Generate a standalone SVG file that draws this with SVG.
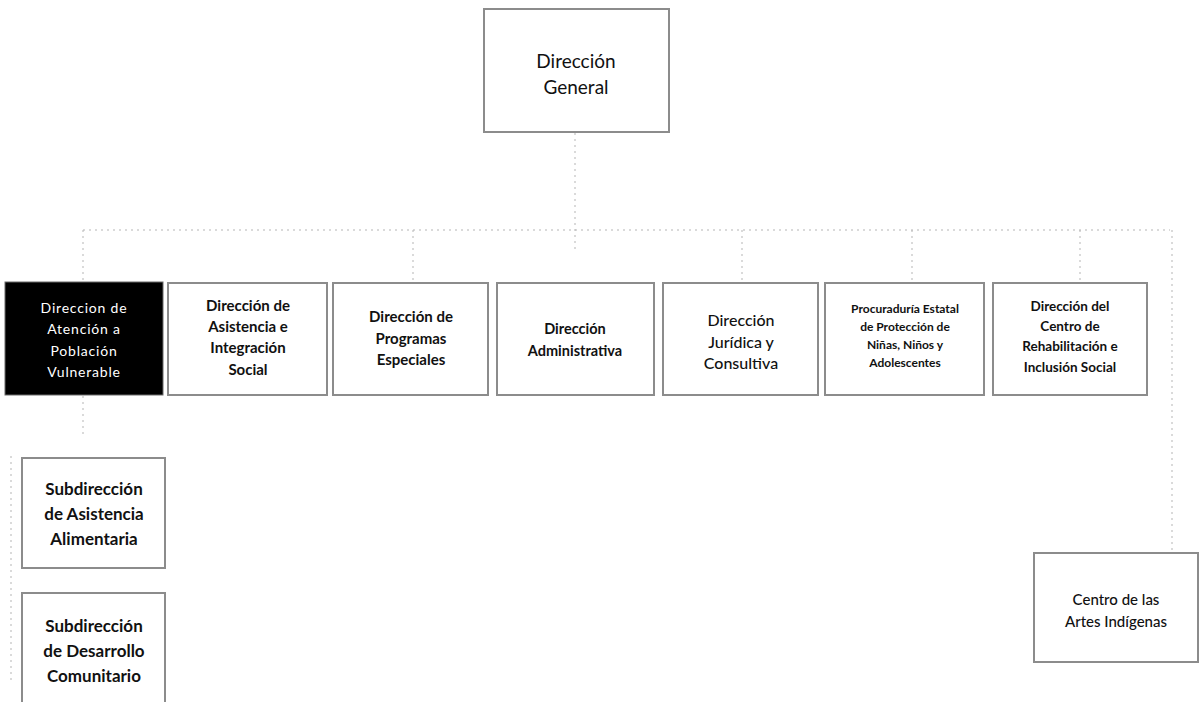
<svg xmlns="http://www.w3.org/2000/svg" width="1200" height="702" viewBox="0 0 1200 702">
  <style>
    .box { fill: #ffffff; stroke: #8c8c8c; stroke-width: 2; }
    .dark { fill: #000000; stroke: #6a6a6a; stroke-width: 1; }
    .lbl { font-family: Lato, "Liberation Sans", sans-serif; fill: #111111; text-anchor: middle; dominant-baseline: central; }
    .b { font-weight: 700; }
    .inv { fill: #ffffff; font-weight: 400; letter-spacing: 0.8px; }
    .wire { fill: none; stroke: #b5b5b5; stroke-width: 1; stroke-dasharray: 2 4; }
  </style>
  <rect width="1200" height="702" fill="#ffffff"/>

  <!-- connectors -->
  <g id="connectors">
    <line class="wire" x1="575" y1="133" x2="575" y2="252"/>
    <line class="wire" x1="83" y1="230" x2="1170" y2="230"/>
    <line class="wire" x1="83" y1="230" x2="83" y2="281"/>
    <line class="wire" x1="413" y1="230" x2="413" y2="281"/>
    <line class="wire" x1="742" y1="230" x2="742" y2="281"/>
    <line class="wire" x1="912" y1="230" x2="912" y2="281"/>
    <line class="wire" x1="1080" y1="230" x2="1080" y2="281"/>
    <line class="wire" x1="1172" y1="230" x2="1172" y2="551"/>
    <line class="wire" x1="83" y1="396" x2="83" y2="436"/>
    <line class="wire" x1="11" y1="456" x2="11" y2="680"/>
  </g>

  <g id="direccion-general">
    <rect class="box" x="484" y="9" width="185" height="123"/>
    <text class="lbl" x="576" y="60" font-size="19">Dirección</text>
    <text class="lbl" x="576" y="86" font-size="19">General</text>
  </g>

  <g id="atencion-poblacion">
    <rect class="dark" x="5" y="282" width="158" height="113"/>
    <text class="lbl inv" x="84" y="307" font-size="14">Direccion de</text>
    <text class="lbl inv" x="84" y="328" font-size="14">Atención a</text>
    <text class="lbl inv" x="84" y="350" font-size="14">Población</text>
    <text class="lbl inv" x="84" y="371" font-size="14">Vulnerable</text>
  </g>

  <g id="asistencia-integracion">
    <rect class="box" x="168" y="283" width="159" height="112"/>
    <text class="lbl b" x="248" y="305" font-size="15">Dirección de</text>
    <text class="lbl b" x="248" y="326" font-size="15">Asistencia e</text>
    <text class="lbl b" x="248" y="347" font-size="15">Integración</text>
    <text class="lbl b" x="248" y="369" font-size="15">Social</text>
  </g>

  <g id="programas-especiales">
    <rect class="box" x="333" y="283" width="155" height="112"/>
    <text class="lbl b" x="411" y="316" font-size="15">Dirección de</text>
    <text class="lbl b" x="411" y="338" font-size="15">Programas</text>
    <text class="lbl b" x="411" y="359" font-size="15">Especiales</text>
  </g>

  <g id="administrativa">
    <rect class="box" x="497" y="283" width="157" height="112"/>
    <text class="lbl b" x="575" y="328" font-size="14.5">Dirección</text>
    <text class="lbl b" x="575" y="350" font-size="14.5">Administrativa</text>
  </g>

  <g id="juridica-consultiva">
    <rect class="box" x="663" y="283" width="155" height="112"/>
    <text class="lbl" x="741" y="319" font-size="16" font-weight="500">Dirección</text>
    <text class="lbl" x="741" y="341" font-size="16" font-weight="500">Jurídica y</text>
    <text class="lbl" x="741" y="362" font-size="16" font-weight="500">Consultiva</text>
  </g>

  <g id="procuraduria">
    <rect class="box" x="825" y="283" width="159" height="112"/>
    <text class="lbl b" x="905" y="308" font-size="12">Procuraduría Estatal</text>
    <text class="lbl b" x="905" y="326" font-size="12">de Protección de</text>
    <text class="lbl b" x="905" y="344" font-size="12">Niñas, Niños y</text>
    <text class="lbl b" x="905" y="362" font-size="12">Adolescentes</text>
  </g>

  <g id="centro-rehabilitacion">
    <rect class="box" x="993" y="283" width="154" height="112"/>
    <text class="lbl b" x="1070" y="306" font-size="13.5">Dirección del</text>
    <text class="lbl b" x="1070" y="326" font-size="13.5">Centro de</text>
    <text class="lbl b" x="1070" y="346" font-size="13.5">Rehabilitación e</text>
    <text class="lbl b" x="1070" y="367" font-size="13.5">Inclusión Social</text>
  </g>

  <g id="asistencia-alimentaria">
    <rect class="box" x="22" y="458" width="143" height="110"/>
    <text class="lbl b" x="94" y="488" font-size="17">Subdirección</text>
    <text class="lbl b" x="94" y="513" font-size="17">de Asistencia</text>
    <text class="lbl b" x="94" y="538" font-size="17">Alimentaria</text>
  </g>

  <g id="desarrollo-comunitario">
    <rect class="box" x="22" y="593" width="143" height="112"/>
    <text class="lbl b" x="94" y="625" font-size="17">Subdirección</text>
    <text class="lbl b" x="94" y="650" font-size="17">de Desarrollo</text>
    <text class="lbl b" x="94" y="675" font-size="17">Comunitario</text>
  </g>

  <g id="artes-indigenas">
    <rect class="box" x="1034" y="553" width="164" height="109"/>
    <text class="lbl" x="1116" y="599" font-size="15" font-weight="500">Centro de las</text>
    <text class="lbl" x="1116" y="621" font-size="15" font-weight="500">Artes Indígenas</text>
  </g>
</svg>
